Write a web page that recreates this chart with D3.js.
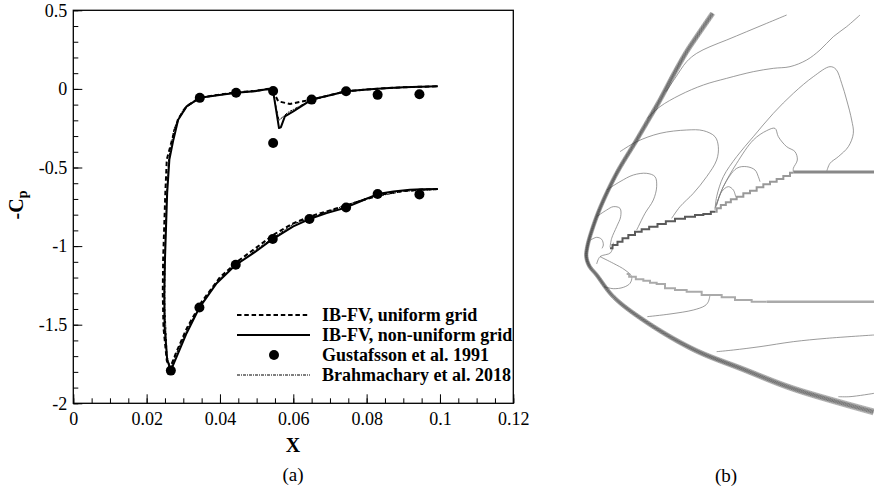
<!DOCTYPE html>
<html>
<head>
<meta charset="utf-8">
<script src="https://cdn.jsdelivr.net/npm/d3@7"></script>
<style>
  body { margin: 0; background: #fff; }
  svg { display: block; }
  text { font-family: "Liberation Serif", "Times New Roman", serif; fill: #000; }
</style>
</head>
<body>
<div id="chart"></div>
<script>
// ---- panel (a) data ----
let xTicks = [0, 0.02, 0.04, 0.06, 0.08, 0.1, 0.12];
let yTicks = [0.5, 0, -0.5, -1, -1.5, -2];

// IB-FV, non-uniform grid (solid)
let solidX = [0.0994,0.095,0.0918,0.0873,0.083,0.0782,0.0744,0.0691,0.0644,0.06,0.0544,0.0491,0.0443,0.0391,0.0344,0.0309,0.0282,0.0266,0.0256,0.0249,0.0248,0.025,0.0253,0.0256,0.0262,0.0273,0.0286,0.0309,0.0345,0.0394,0.0444,0.0495,0.0532,0.0546,0.0561,0.0566,0.0577,0.06,0.065,0.07,0.0744,0.08,0.085,0.09,0.0994];
let solidY = [-0.637,-0.639,-0.641,-0.652,-0.669,-0.716,-0.754,-0.790,-0.828,-0.875,-0.955,-1.045,-1.119,-1.236,-1.391,-1.554,-1.703,-1.790,-1.724,-1.512,-1.300,-1.087,-0.875,-0.662,-0.450,-0.323,-0.196,-0.111,-0.057,-0.040,-0.024,-0.015,0.000,-0.030,-0.249,-0.245,-0.175,-0.143,-0.068,-0.040,-0.015,-0.004,0.004,0.010,0.017];

// IB-FV, uniform grid (dashed)
let dashX = [0.0994,0.095,0.09,0.085,0.08,0.075,0.07,0.065,0.06,0.055,0.05,0.045,0.04,0.035,0.031,0.028,0.0264,0.0255,0.0246,0.0244,0.0245,0.0248,0.0251,0.0255,0.0272,0.0286,0.0309,0.0345,0.0394,0.0444,0.0495,0.0532,0.0546,0.0559,0.0591,0.0627,0.065,0.07,0.0744,0.08,0.085,0.09,0.0994];
let dashY = [-0.637,-0.640,-0.650,-0.668,-0.700,-0.737,-0.773,-0.808,-0.855,-0.922,-1.008,-1.094,-1.198,-1.355,-1.520,-1.680,-1.775,-1.730,-1.520,-1.300,-1.087,-0.875,-0.662,-0.450,-0.300,-0.190,-0.110,-0.055,-0.038,-0.022,-0.013,0.000,-0.020,-0.079,-0.096,-0.079,-0.068,-0.040,-0.015,-0.004,0.004,0.010,0.017];

// Brahmachary et al. 2018 (dash-dot)
let brahX = [0.0994,0.09,0.08,0.07,0.06,0.05,0.04,0.035,0.031,0.028,0.0265,0.0256,0.025,0.025,0.0254,0.026,0.0275,0.03,0.0345,0.0444,0.0532,0.0546,0.0561,0.0585,0.065,0.0744,0.085,0.0994];
let brahY = [-0.640,-0.652,-0.695,-0.775,-0.860,-1.020,-1.205,-1.365,-1.530,-1.690,-1.780,-1.700,-1.400,-1.000,-0.700,-0.450,-0.250,-0.130,-0.058,-0.024,0.000,-0.040,-0.200,-0.150,-0.068,-0.015,0.004,0.017];

// Gustafsson et al. 1991 (markers)
let gustX = [0.0266,0.0344,0.0443,0.0544,0.0644,0.0744,0.0830,0.0944,0.0345,0.0444,0.0545,0.0545,0.0650,0.0744,0.0830,0.0944];
let gustY = [-1.792,-1.391,-1.119,-0.955,-0.828,-0.754,-0.669,-0.671,-0.057,-0.024,-0.013,-0.344,-0.068,-0.015,-0.038,-0.034];

let legendLabels = ["IB-FV, uniform grid", "IB-FV, non-uniform grid", "Gustafsson et al. 1991", "Brahmachary et al. 2018"];

// ---- panel (b) data, contour lines in figure units ----
let shockPts = [[458,40],[410,110],[380,155],[340,225],[300,300],[265,360],[230,420],[170,520],[122,620],[96,690],[82,740],[79,770],[88,798],[110,825],[160,890],[250,960],[400,1048],[550,1108],[700,1166],[942,1236]];
let upperBody = [[150,745],[165,735],[180,725],[195,715],[215,705],[235,695],[255,688],[280,680],[305,672],[330,664],[360,656],[390,650],[420,645],[440,642],[465,635]];
let upperCone = [[465,635],[475,625],[490,615],[505,607],[520,598],[540,590],[560,580],[580,572],[600,562],[620,553],[640,545],[660,537],[680,528],[700,518]];
let upperFlat = [[700,516],[942,516]];
let lowerBody = [[200,822],[215,830],[240,838],[260,842],[280,848],[300,852],[330,865],[360,870],[400,875],[450,885],[520,892],[530,900],[620,905]];
let lowerFlat = [[620,905],[942,905]];
let contours = [
  [[680,45],[620,70],[560,95],[500,120],[450,140],[410,160],[380,185],[345,235],[318,275]],
  [[900,45],[860,80],[820,110],[780,150],[740,180],[690,200],[640,205],[580,215],[500,235],[430,255],[360,285],[300,320],[262,355]],
  [[465,630],[470,590],[490,530],[530,470],[580,410],[640,340],[700,280],[760,230],[810,200],[828,208],[845,250],[860,300],[875,360],[880,400],[865,440],[835,470],[810,490],[800,515]],
  [[465,625],[490,560],[530,490],[580,420],[620,392],[645,385],[655,410],[680,440],[705,455],[712,480],[700,505],[700,515]],
  [[468,620],[490,560],[530,505],[560,500],[585,510],[595,530],[600,545]],
  [[470,615],[485,575],[505,560],[520,570],[527,590]],
  [[180,455],[230,425],[300,400],[380,390],[430,392],[465,410],[475,440],[470,480],[440,530],[400,580],[360,620],[335,655]],
  [[140,570],[180,545],[220,525],[260,520],[285,530],[290,560],[280,600],[255,640],[235,680],[230,690]],
  [[110,650],[140,630],[160,620],[180,625],[182,650],[170,680],[155,715],[150,742]],
  [[92,720],[110,712],[125,718],[130,735],[126,745]],
  [[160,728],[152,758],[120,770],[110,792]],
  [[120,770],[160,790],[195,810],[215,830],[210,850],[190,862],[160,866],[132,860]],
  [[450,885],[445,905],[435,917],[400,930],[330,942],[262,950]],
  [[470,1055],[520,1050],[600,1040],[700,1025],[800,1015],[942,1005]],
  [[835,1190],[870,1190],[942,1180]]
];
let shockOffsets = [-1.8, -1.35, -0.9, -0.45, 0, 0.45, 0.9, 1.35, 1.8];

let W = 874, H = 494;
let svg = d3.select("#chart").append("svg")
  .attr("width", W)
  .attr("height", H)
  .attr("viewBox", `0 0 ${W} ${H}`);

let plot = { left: 73.3, right: 513.3, top: 10.3, bottom: 403.3 };

let x = d3.scaleLinear().domain([0, 0.12]).range([plot.left, plot.right]);
let y = d3.scaleLinear().domain([-2, 0.5]).range([plot.bottom, plot.top]);

let fmt = d => String(d);

// minor ticks
svg.append("g")
  .attr("transform", `translate(0,${plot.bottom})`)
  .call(d3.axisBottom(x).tickValues(d3.range(0, 25).map(i => i * 0.005)).tickSize(-5).tickFormat(""))
  .call(g => g.select(".domain").remove());
svg.append("g")
  .attr("transform", `translate(${plot.left},0)`)
  .call(d3.axisLeft(y).tickValues(d3.range(0, 26).map(i => -2 + i * 0.1)).tickSize(-5).tickFormat(""))
  .call(g => g.select(".domain").remove());

// major ticks with labels
svg.append("g")
  .attr("class", "x-axis")
  .attr("transform", `translate(0,${plot.bottom})`)
  .call(d3.axisBottom(x).tickValues(xTicks).tickSize(-9).tickPadding(9).tickFormat(fmt))
  .call(g => g.select(".domain").remove())
  .call(g => g.selectAll("text").style("font-size", "18px"));
svg.append("g")
  .attr("class", "y-axis")
  .attr("transform", `translate(${plot.left},0)`)
  .call(d3.axisLeft(y).tickValues(yTicks).tickSize(-9).tickPadding(6).tickFormat(fmt))
  .call(g => g.select(".domain").remove())
  .call(g => g.selectAll("text").style("font-size", "18px"));

svg.selectAll(".tick line").attr("stroke", "#000").attr("stroke-width", 1);

svg.append("rect")
  .attr("x", plot.left).attr("y", plot.top)
  .attr("width", plot.right - plot.left).attr("height", plot.bottom - plot.top)
  .attr("fill", "none").attr("stroke", "#000").attr("stroke-width", 1.3);

let line = d3.line().x(d => x(d[0])).y(d => y(d[1]));
let zip = (a, b) => a.map((v, i) => [v, b[i]]);

svg.append("path")
  .attr("d", line(zip(brahX, brahY)))
  .attr("fill", "none").attr("stroke", "#000").attr("stroke-width", 1)
  .attr("stroke-dasharray", "3,1,1,1");
svg.append("path")
  .attr("d", line(zip(dashX, dashY)))
  .attr("fill", "none").attr("stroke", "#000").attr("stroke-width", 2)
  .attr("stroke-dasharray", "4.5,2.8");
svg.append("path")
  .attr("d", line(zip(solidX, solidY)))
  .attr("fill", "none").attr("stroke", "#000").attr("stroke-width", 2)
  .attr("stroke-linejoin", "round");

svg.selectAll(".gust")
  .data(zip(gustX, gustY))
  .enter()
  .append("circle")
  .attr("class", "gust")
  .attr("cx", d => x(d[0]))
  .attr("cy", d => y(d[1]))
  .attr("r", 5)
  .attr("fill", "#000");

// legend
let legend = svg.append("g").attr("transform", "translate(237,315)");
let legendStyles = [
  { dash: "4.5,2.8", w: 2, marker: false },
  { dash: null, w: 2, marker: false },
  { dash: null, w: 0, marker: true },
  { dash: "3,1,1,1", w: 1, marker: false }
];
legendLabels.forEach((lab, i) => {
  let row = legend.append("g").attr("transform", `translate(0,${i * 20})`);
  let s = legendStyles[i];
  if (s.marker) {
    row.append("circle").attr("cx", 37).attr("cy", 0).attr("r", 5).attr("fill", "#000");
  } else {
    row.append("line").attr("x1", 0).attr("x2", 73).attr("y1", 0).attr("y2", 0)
      .attr("stroke", "#000").attr("stroke-width", s.w)
      .attr("stroke-dasharray", s.dash);
  }
  row.append("text").attr("x", 85).attr("y", 6)
    .style("font-size", "18px").style("font-weight", "bold")
    .text(lab);
});

// axis titles
svg.append("text")
  .attr("x", 293).attr("y", 452)
  .attr("text-anchor", "middle")
  .style("font-size", "20px").style("font-weight", "bold")
  .text("X");

let yl = svg.append("text")
  .attr("transform", "translate(23,205) rotate(-90)")
  .attr("text-anchor", "middle")
  .style("font-size", "20px").style("font-weight", "bold");
yl.append("tspan").text("-C");
yl.append("tspan").attr("dy", "0.3em").style("font-size", "14px").text("p");

svg.append("text").attr("x", 293).attr("y", 481).attr("text-anchor", "middle")
  .style("font-size", "19px").text("(a)");
svg.append("text").attr("x", 726).attr("y", 482).attr("text-anchor", "middle")
  .style("font-size", "19px").text("(b)");

// ---- panel (b) ----
let xB = d3.scaleLinear().domain([0, 942]).range([560, 874]);
let yB = d3.scaleLinear().domain([0, 1482]).range([0, 494]);
let lineB = d3.line().x(d => xB(d[0])).y(d => yB(d[1]));

let pb = svg.append("g").attr("class", "panel-b");

contours.forEach(c => {
  pb.append("path")
    .attr("d", lineB.curve(d3.curveCatmullRom)(c))
    .attr("fill", "none").attr("stroke", "#7a7a7a").attr("stroke-width", 0.75);
});

// shock bundle: sample the centre curve and offset along the normal
let tmp = pb.append("path")
  .attr("d", lineB.curve(d3.curveCatmullRom)(shockPts))
  .attr("fill", "none").attr("stroke", "none");
let node = tmp.node();
let L = node.getTotalLength();
let samples = d3.range(0, L, 2).map(l => node.getPointAtLength(l));
shockOffsets.forEach(k => {
  let pts = samples.map((p, i) => {
    let a = samples[Math.max(0, i - 1)], b = samples[Math.min(samples.length - 1, i + 1)];
    let tx = b.x - a.x, ty = b.y - a.y, len = Math.hypot(tx, ty) || 1;
    let t = i / samples.length;
    let w = t < 0.45 ? 1.3 - 0.8 * t : 0.95 + 1.3 * (t - 0.45);
    return [p.x - ty / len * k * w, p.y + tx / len * k * w];
  });
  pb.append("path")
    .attr("d", d3.line()(pts))
    .attr("fill", "none").attr("stroke", "#2a2a2a").attr("stroke-width", 0.6)
    .attr("stroke-opacity", Math.abs(k) > 1.2 ? 0.55 : 0.9);
});

// body surfaces
pb.append("path").attr("d", lineB.curve(d3.curveStep)(upperBody))
  .attr("fill", "none").attr("stroke", "#5a5a5a").attr("stroke-width", 2);
pb.append("path").attr("d", lineB.curve(d3.curveStep)(upperCone))
  .attr("fill", "none").attr("stroke", "#999").attr("stroke-width", 2);
pb.append("path").attr("d", lineB.curve(d3.curveLinear)(upperFlat))
  .attr("fill", "none").attr("stroke", "#888").attr("stroke-width", 3);
pb.append("path").attr("d", lineB.curve(d3.curveStep)(lowerBody))
  .attr("fill", "none").attr("stroke", "#aaa").attr("stroke-width", 2);
pb.append("path").attr("d", lineB.curve(d3.curveLinear)(lowerFlat))
  .attr("fill", "none").attr("stroke", "#aaa").attr("stroke-width", 2.5);
</script>
</body>
</html>
